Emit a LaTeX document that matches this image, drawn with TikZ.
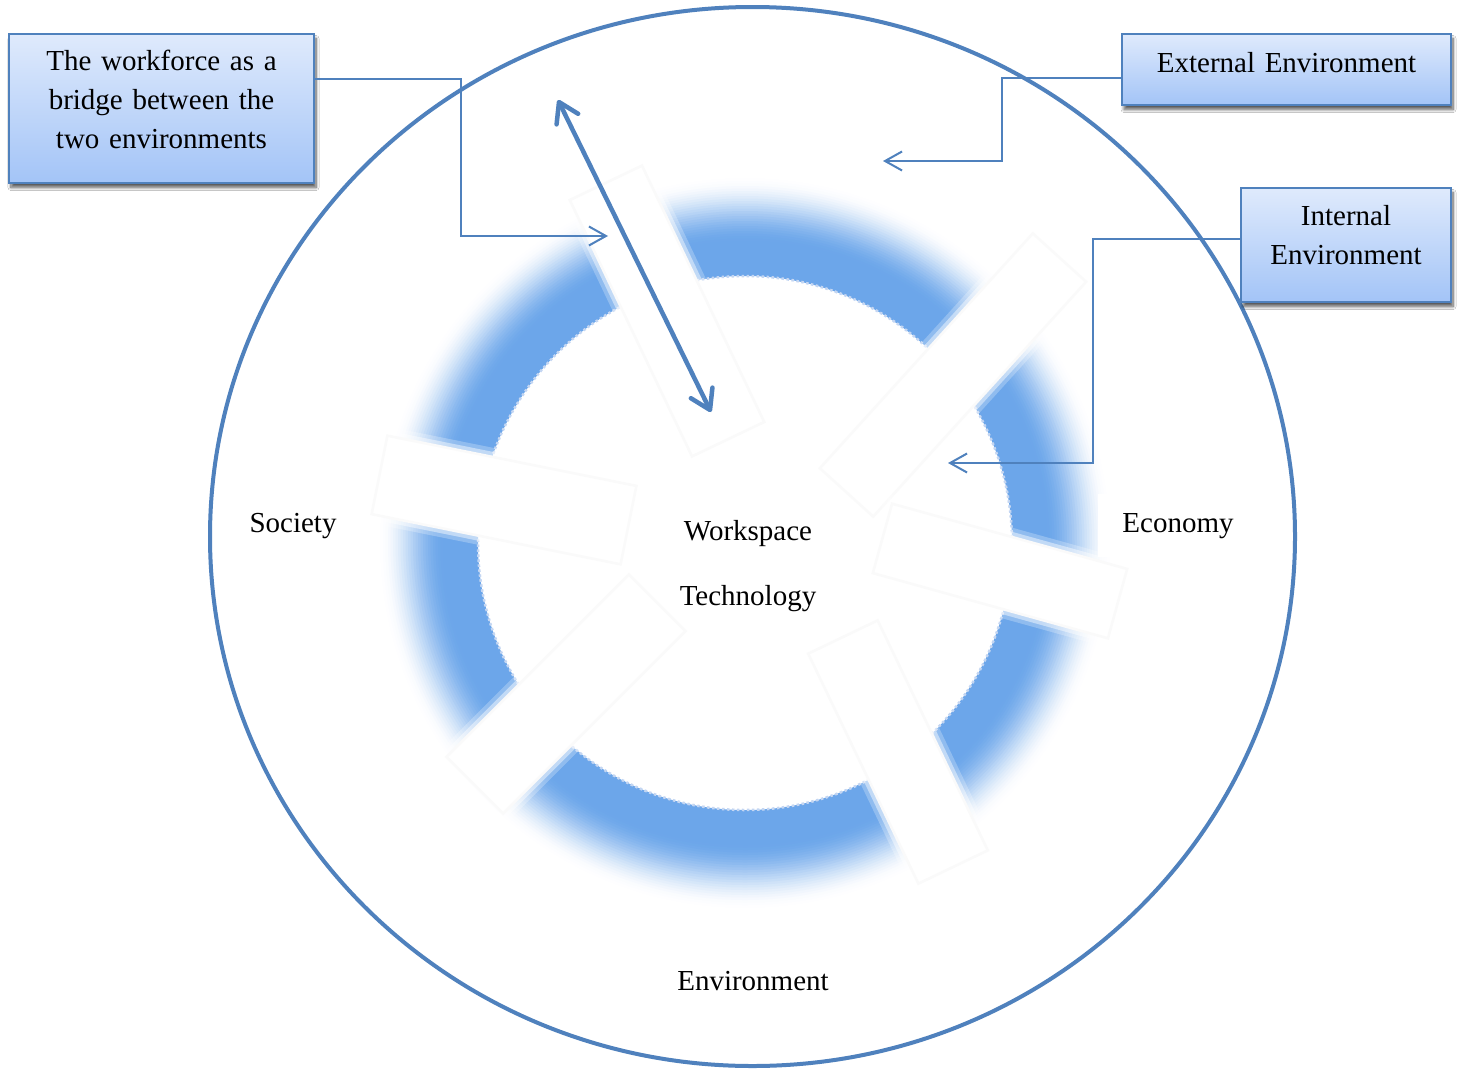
\documentclass[tikz,border=0pt]{standalone}
\usepackage{fontspec}
\setmainfont{Liberation Serif}
\usetikzlibrary{arrows.meta,shadows,shadows.blur}

\definecolor{frameblue}{RGB}{79,129,189}
\definecolor{ringblue}{RGB}{108,166,234}
\definecolor{boxtop}{RGB}{223,234,252}
\definecolor{boxbot}{RGB}{163,196,247}
\definecolor{spokeedge}{RGB}{250,250,250}
\definecolor{rimdots}{RGB}{196,214,242}

\begin{document}
\begin{tikzpicture}[x=1pt,y=-1pt,
  lbl/.style={font=\fontsize{29}{39}\selectfont, inner sep=0pt, anchor=base},
  callout/.style={draw=frameblue, line width=1.8pt, top color=boxtop, bottom color=boxbot,
    align=center, inner sep=0pt, font=\fontsize{29}{39}\selectfont,
    blur shadow={shadow xshift=2pt, shadow yshift=-4.5pt, shadow blur radius=3pt,
      shadow blur steps=8, shadow opacity=65}},
  conn/.style={draw=frameblue, line width=2pt, -{Straight Barb[length=17pt,width=19pt]}},
  spokebar/.style={fill=white, draw=spokeedge, line width=2.5pt, inner sep=0pt, outer sep=0pt,
    preaction={draw=white, draw opacity=0.25, line width=18pt},
    preaction={draw=white, draw opacity=0.45, line width=10pt}},
]
% page
\fill[white] (0,0) rectangle (1458,1068);

% blue ring with a soft outer edge
\coordinate (hub) at (745,543);
\foreach \k in {26,25,...,1}{
  \pgfmathsetmacro\fadeR{300+2.5*\k}
  \pgfmathsetmacro\fadepct{100*(1-(3*(\k/26)^2-2*(\k/26)^3))}
  \draw[ringblue!\fadepct!white, line width=4pt] (hub) circle (\fadeR);
}
\fill[ringblue, even odd rule] (hub) circle (302) (hub) circle (267);
\draw[rimdots, line width=2.5pt, dash pattern=on 2.5pt off 2.5pt] (hub) circle (267);

% white spokes across the ring
\node[spokebar, minimum width=284pt, minimum height=80pt, rotate=-64.5] (sp1) at (667,311) {};
\node[spokebar, minimum width=317pt, minimum height=72pt, rotate=47.8]  (sp2) at (953,375) {};
\node[spokebar, minimum width=244pt, minimum height=72pt, rotate=-15.5] (sp3) at (1000,571) {};
\node[spokebar, minimum width=255pt, minimum height=77pt, rotate=-64.4] (sp4) at (898,752) {};
\node[spokebar, minimum width=258pt, minimum height=80pt, rotate=45]    (sp5) at (566,694) {};
\node[spokebar, minimum width=254pt, minimum height=80pt, rotate=-11.4] (sp6) at (504,500) {};

% labels
\node[lbl] (work) at (748,540) {Workspace};
\node[lbl] (tech) at (748,605) {Technology};
\node[lbl] (soc) at (293,532) {Society};
\node[lbl, fill=white, inner xsep=24pt, inner ysep=19pt] (eco) at (1178,532) {Economy};
\node[lbl] (env) at (753,990) {Environment};

% outer boundary
\draw[frameblue, line width=4pt] (752.5,536.5) ellipse [x radius=542.5, y radius=529.5];

% connector ends
\coordinate (bendA) at (461,236);  \coordinate (tipA) at (608,236);
\coordinate (bendB) at (1002,161); \coordinate (tipB) at (883,161);
\coordinate (bendC) at (1093,463); \coordinate (tipC) at (948,463);
\coordinate (bridgeTop) at (558,100); \coordinate (bridgeLow) at (711,412);

% callout boxes
\node[callout, text width=305pt, minimum height=149pt, text depth=97pt] (wf) at (161.5,108.5)
  {The workforce as a\\ bridge between the\\ two environments};
\node[callout, text width=329pt, minimum height=71pt, text depth=15pt] (ext) at (1286.5,69.5)
  {External Environment};
\node[callout, text width=210pt, minimum height=114pt, text depth=60pt] (int) at (1346,245)
  {Internal\\ Environment};

% connectors
\draw[conn] ([yshift=29.5pt]wf.east) -| (bendA) -- (tipA);
\draw[conn] ([yshift=-8.5pt]ext.west) -| (bendB) -- (tipB);
\draw[conn] ([yshift=6pt]int.west) -| (bendC) -- (tipC);

% double arrow across the ring
\draw[frameblue, line width=4.5pt, line cap=round,
  {Straight Barb[length=19pt,width=24pt,line cap=round,line join=round]}-{Straight Barb[length=19pt,width=24pt,line cap=round,line join=round]}]
  (bridgeLow) -- (bridgeTop);
\end{tikzpicture}
\end{document}
